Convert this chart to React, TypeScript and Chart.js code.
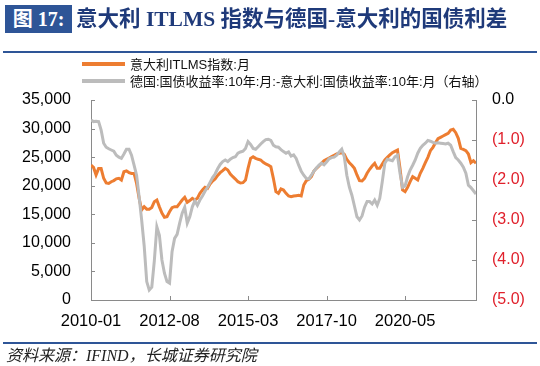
import React, { useEffect, useRef } from "react";
import { Chart, registerables } from "chart.js";

Chart.register(...registerables);

// ---- Data (monthly, 2010-01 .. 2022-09) ----
const itlmsIndex: number[] = [
  23600, 23200, 21900, 23000, 23000, 21300, 20500, 20400, 20700, 20900,
  21200, 21300, 21000, 22450, 22600, 22300, 22150, 22150, 20400, 17800,
  15750, 16330, 15900, 15900, 16200, 17200, 17500, 16300, 15200, 14470,
  14580, 15450, 16150, 16330, 16330, 16900, 17500, 17970, 17100, 17400,
  17800, 17500, 17800, 18670, 19250, 19720, 19540, 20300, 20820, 21170,
  21800, 22280, 22630, 23040, 22750, 22050, 21580, 21170, 20700, 20480,
  20530, 21000, 23040, 24790, 25080, 24790, 24620, 24500, 24090, 23800,
  23620, 23330, 21290, 18960, 18670, 19430, 19250, 18670, 18200, 18080,
  18200, 18260, 18320, 18200, 20130, 20880, 21120, 21580, 22570, 23040,
  23450, 23920, 24380, 24620, 24850, 25080, 25320, 25550, 25670, 25780,
  25490, 24620, 24030, 23570, 23040, 21880, 20880, 20830, 21290, 22170,
  22870, 23450, 23920, 23040, 23040, 23800, 24500, 24970, 25380, 25780,
  26020, 26250, 23040, 19250, 18960, 19720, 20710, 21580, 21290, 21000,
  22170, 23040, 24030, 24970, 26130, 26720, 27530, 28230, 28470, 28700,
  28930, 29170, 29750, 29870, 29280, 28290, 26540, 26370, 26130, 25550,
  24030, 24380, 23920,
];

const bundSpread: number[] = [
  -0.5, -0.54, -0.53, -0.54, -0.75, -1.08, -1.18, -1.22, -1.25, -1.28,
  -1.38, -1.43, -1.46, -1.35, -1.23, -1.23, -1.38, -1.63, -1.88, -2.42,
  -3.0, -3.65, -4.54, -4.75, -4.68, -4.02, -3.17, -3.38, -4.0, -4.33,
  -4.54, -4.58, -3.79, -3.46, -3.36, -3.08, -2.83, -2.68, -3.08, -2.92,
  -2.67, -2.52, -2.63, -2.5, -2.4, -2.28, -2.18, -2.06, -1.94, -1.85,
  -1.72, -1.61, -1.54, -1.5, -1.54, -1.48, -1.44, -1.42, -1.33, -1.3,
  -1.28, -1.21, -1.04, -1.11, -1.21, -1.23, -1.17, -1.1, -1.04, -0.99,
  -0.98, -1.01, -1.13, -1.17, -1.18, -1.24, -1.29, -1.33, -1.3, -1.4,
  -1.37, -1.46, -1.63, -1.78, -1.88, -1.96, -1.97, -1.88, -1.78, -1.7,
  -1.63, -1.58, -1.62, -1.55, -1.47, -1.44, -1.43, -1.38, -1.3, -1.23,
  -1.42, -1.88, -2.18, -2.38, -2.65, -2.92, -3.0, -2.9, -2.68, -2.54,
  -2.54, -2.6, -2.5, -2.63, -2.46, -2.04, -1.58, -1.48, -1.5, -1.52,
  -1.42, -1.38, -1.83, -2.18, -2.15, -1.92, -1.75, -1.63, -1.5, -1.33,
  -1.21, -1.13, -1.08, -1.01, -1.03, -1.06, -1.08, -1.07, -1.08, -1.09,
  -1.1, -1.08, -1.13, -1.29, -1.44, -1.5, -1.58, -1.68, -1.83, -2.13,
  -2.19, -2.27, -2.35,
];

const xTickIndex: number[] = [0, 31, 62, 93, 124];
const xTickLabels: string[] = ["2010-01", "2012-08", "2015-03", "2017-10", "2020-05"];

const legendLabels: string[] = [
  "意大利ITLMS指数:月",
  "德国:国债收益率:10年:月:-意大利:国债收益率:10年:月（右轴）",
];

const ORANGE = "#ED7D31";
const GRAY = "#BCBCBC";
const AXIS = "#8A8A8A";
const RED = "#E0202B";
const BLUE = "#2E5597";

const innerTicks = {
  id: "innerTicks",
  afterDatasetsDraw(chart: any) {
    const { ctx, chartArea } = chart;
    const { left, right, bottom } = chartArea;
    const { x, y, y1 } = chart.scales;
    ctx.save();
    ctx.strokeStyle = AXIS;
    ctx.lineWidth = 1;
    ctx.beginPath();
    y.ticks.forEach((t: any) => {
      const py = Math.round(y.getPixelForValue(t.value)) + 0.5;
      ctx.moveTo(left, py);
      ctx.lineTo(left + 4, py);
    });
    y1.ticks.forEach((t: any) => {
      const py = Math.round(y1.getPixelForValue(t.value)) + 0.5;
      ctx.moveTo(right, py);
      ctx.lineTo(right - 4, py);
    });
    x.ticks.forEach((t: any) => {
      const px = Math.round(x.getPixelForValue(t.value)) + 0.5;
      ctx.moveTo(px, bottom);
      ctx.lineTo(px, bottom - 4);
    });
    ctx.stroke();
    ctx.restore();
  },
};

function ChartCanvas() {
  const ref = useRef<HTMLCanvasElement | null>(null);
  useEffect(() => {
    if (!ref.current) return;
    const tickFont = { family: "'Liberation Sans', Arial, sans-serif", size: 16 };
    const chart = new Chart(ref.current, {
      type: "line",
      data: {
        datasets: [
          {
            label: legendLabels[0],
            data: itlmsIndex.map((v, i) => ({ x: i, y: v })),
            borderColor: ORANGE,
            borderWidth: 3,
            pointRadius: 0,
            tension: 0,
            yAxisID: "y",
            order: 1,
          },
          {
            label: legendLabels[1],
            data: bundSpread.map((v, i) => ({ x: i, y: v })),
            borderColor: GRAY,
            borderWidth: 3,
            pointRadius: 0,
            tension: 0,
            yAxisID: "y1",
            order: 0,
          },
        ],
      },
      options: {
        animation: false,
        responsive: false,
        devicePixelRatio: 1,
        layout: { padding: { top: 100, left: 0, right: 0, bottom: 0 } },
        plugins: {
          legend: { display: false },
          title: { display: false },
          tooltip: { enabled: false },
        },
        scales: {
          x: {
            type: "linear",
            min: 0,
            max: itlmsIndex.length - 1,
            grid: { display: false, drawTicks: false },
            border: { display: true, color: AXIS, width: 1 },
            afterBuildTicks: (s: any) => {
              s.ticks = xTickIndex.map((v) => ({ value: v }));
            },
            afterFit: (s: any) => {
              s.height = 66;
            },
            ticks: {
              autoSkip: false,
              maxRotation: 0,
              padding: 12,
              color: "#000",
              font: { ...tickFont, size: 16.5 },
              callback: (v: any) => {
                const k = xTickIndex.indexOf(Number(v));
                return k >= 0 ? xTickLabels[k] : "";
              },
            },
          },
          y: {
            position: "left",
            min: 0,
            max: 35000,
            grid: { display: false, drawTicks: false },
            border: { display: true, color: AXIS, width: 1 },
            afterFit: (s: any) => {
              s.width = 91;
            },
            ticks: {
              stepSize: 5000,
              padding: 20,
              color: "#000",
              font: tickFont,
              callback: (v: any) => Number(v).toLocaleString("en-US"),
            },
          },
          y1: {
            position: "right",
            min: -5,
            max: 0,
            grid: { display: false, drawTicks: false },
            border: { display: true, color: AXIS, width: 1 },
            afterFit: (s: any) => {
              s.width = 64;
            },
            ticks: {
              stepSize: 1,
              padding: 16,
              font: tickFont,
              color: (c: any) => (c.tick && c.tick.value < 0 ? RED : "#000"),
              callback: (v: any) => {
                const n = Number(v);
                return n === 0 ? "0.0" : "(" + Math.abs(n).toFixed(1) + ")";
              },
            },
          },
        },
      },
      plugins: [innerTicks],
    } as any);
    return () => chart.destroy();
  }, []);
  return (
    <canvas
      ref={ref}
      width={540}
      height={366}
      style={{ position: "absolute", left: 0, top: 0, width: 540, height: 366 }}
    />
  );
}

export default function App() {
  const sans = "'Liberation Sans', Arial, 'Noto Sans CJK SC', sans-serif";
  const serif = "'Liberation Serif', 'Times New Roman', 'Noto Sans CJK SC', serif";
  return (
    <div
      style={{
        position: "absolute",
        left: 0,
        top: 0,
        width: 540,
        height: 366,
        background: "#fff",
        overflow: "hidden",
      }}
    >
      <ChartCanvas />
      {/* header */}
      <div
        style={{
          position: "absolute",
          left: 5,
          top: 5,
          width: 67,
          height: 28,
          background: BLUE,
          color: "#fff",
          fontFamily: serif,
          fontWeight: "bold",
          fontSize: 20,
          lineHeight: "28px",
          textAlign: "center",
          whiteSpace: "nowrap",
        }}
      >
        图 17:
      </div>
      <div
        style={{
          position: "absolute",
          left: 76,
          top: 5,
          height: 28,
          lineHeight: "28px",
          color: "#1F3A7A",
          fontFamily: serif,
          fontWeight: "bold",
          fontSize: 21.5,
          whiteSpace: "nowrap",
        }}
      >
        意大利 ITLMS 指数与德国-意大利的国债利差
      </div>
      <div
        style={{
          position: "absolute",
          left: 3,
          top: 51,
          width: 534,
          height: 2,
          background: BLUE,
        }}
      />
      {/* legend */}
      {legendLabels.map((lab, i) => (
        <div
          key={lab}
          style={{
            position: "absolute",
            left: 82,
            top: 55 + i * 17,
            height: 17,
            display: "flex",
            alignItems: "center",
            whiteSpace: "nowrap",
            fontFamily: sans,
            fontSize: 13,
            color: "#111",
          }}
        >
          <span
            style={{
              display: "inline-block",
              width: 43,
              height: 4,
              background: i === 0 ? ORANGE : GRAY,
              marginRight: 5,
            }}
          />
          <span>{lab}</span>
        </div>
      ))}
      {/* footer */}
      <div
        style={{
          position: "absolute",
          left: 3,
          top: 342,
          width: 534,
          height: 2,
          background: BLUE,
        }}
      />
      <div
        style={{
          position: "absolute",
          left: 6,
          top: 346,
          height: 20,
          lineHeight: "20px",
          fontFamily: serif,
          fontStyle: "italic",
          fontSize: 16,
          color: "#222",
          whiteSpace: "nowrap",
        }}
      >
        资料来源：IFIND，长城证券研究院
      </div>
    </div>
  );
}
